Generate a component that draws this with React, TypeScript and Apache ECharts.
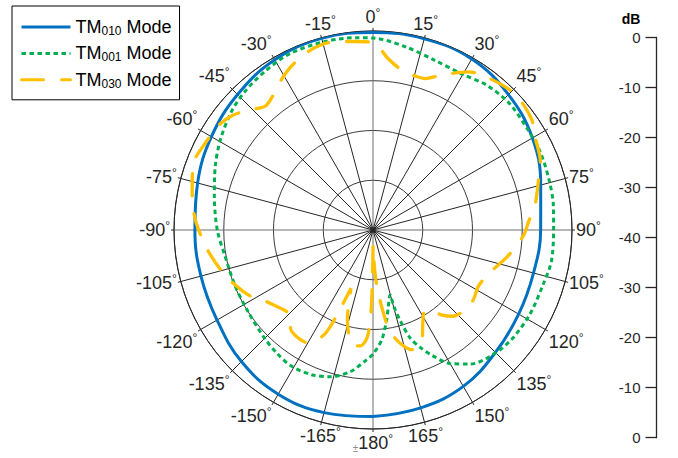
import { useEffect, useRef } from "react";
import * as echarts from "echarts";

// ---------- data ----------
const seriesNames = ["TM010 Mode", "TM001 Mode", "TM030 Mode"];
const legendSubscripts = ["010", "001", "030"];
const dbTickLabels = ["0", "-10", "-20", "-30", "-40", "-30", "-20", "-10", "0"];

const blueAngles = [-180, -165, -150, -135, -120, -105, -90, -75, -60, -45, -30, -15, 0, 15, 30, 45, 60, 75, 90, 105, 120, 135, 150, 165, 180];
const blueDb = [-2.5, -2.0, -1.9, -2.6, -3.8, -4.2, -4.2, -3.5, -2.5, -1.5, -0.5, -0.1, -0.3, -0.2, -0.3, -1.5, -3.0, -5.1, -6.3, -6.6, -6.2, -5.2, -3.7, -3.0, -2.5];

const greenAngles = [-180, -177, -171, -164, -157, -149, -142, -135, -123, -112, -100, -90, -78, -68, -59, -50, -43, -34, -25, -14, -5, 0, 10, 20, 30, 38, 47, 57, 65, 74, 82, 90, 100, 108, 118, 128, 136, 144, 150, 155, 158, 161, 163.3, 164.7, 165.3, 168.7, 171.4, 175.5, 180];
const greenDb = [-15.0, -13.8, -11.2, -9.3, -8.4, -8.1, -8.6, -9.2, -10.0, -10.1, -9.8, -8.7, -7.4, -5.8, -4.3, -2.9, -2.1, -1.4, -0.8, -0.9, -1.2, -1.4, -2.6, -3.7, -3.9, -3.0, -2.6, -2.9, -2.9, -3.2, -3.4, -3.7, -3.6, -4.1, -4.2, -4.5, -5.2, -6.7, -9.0, -12.3, -14.5, -17.0, -21.0, -24.0, -26.5, -24.3, -21.7, -17.8, -15.0];

const orangeAngles = [-180, -179.3, -178.5, -177, -174, -171, -168, -164, -161, -159.3, -158, -157, -155, -150, -145, -140, -136, -133, -128, -124, -118, -110, -104, -96, -88, -82, -77, -72, -68, -64, -56, -51, -46, -41, -37, -31, -26, -19, -13, -6, 0, 5, 10, 15, 19, 24, 31, 36, 43, 48, 55, 60, 68, 73, 81, 87, 92, 101, 110, 118, 124, 129, 134, 137, 141, 145, 148, 152, 155, 159, 162, 165, 168, 171, 173, 176, 178, 179.5, 180];
const orangeDb = [-36, -29, -23, -18.5, -16.6, -16.4, -17.6, -21.3, -25.5, -27.5, -24.5, -21.3, -16.8, -13.8, -13.6, -14.2, -16.3, -16.1, -15.2, -14.2, -11.9, -9.7, -8.2, -6.3, -4.5, -3.4, -2.7, -1.9, -1.5, -1.9, -2.5, -3.5, -5.3, -7.0, -6.4, -4.5, -3.1, -1.7, -1.3, -1.9, -2.3, -5.4, -7.3, -7.9, -7.8, -5.9, -2.9, -1.8, -0.8, -0.5, -1.1, -2.4, -3.7, -5.2, -7.0, -8.7, -9.7, -12.4, -15.0, -16.0, -15.5, -15.3, -15.8, -16.3, -18.0, -20.4, -20.6, -18.7, -16.5, -15.0, -14.7, -15.8, -17.5, -20.0, -23.5, -28.6, -33.0, -37.0, -36];

const toPolar = (angles: number[], db: number[]) => angles.map((a, i) => [db[i], a]);

const FONT = "Arial, 'Liberation Sans', sans-serif";
const INK = "#262626";

export default function App() {
  const ref = useRef<HTMLDivElement>(null);

  useEffect(() => {
    if (!ref.current) return;
    const chart = echarts.init(ref.current, undefined, { renderer: "svg" });

    const spokeColors = ["#6e6e6e", INK, INK, INK, INK, INK];

    chart.setOption({
      animation: false,
      backgroundColor: "#fff",
      textStyle: { fontFamily: FONT },
      polar: { center: [373, 230], radius: 199 },
      angleAxis: {
        type: "value",
        min: -180,
        max: 180,
        interval: 15,
        startAngle: 270,
        clockwise: true,
        axisLine: { show: true, lineStyle: { color: INK, width: 1 } },
        axisTick: { show: true, length: 3, lineStyle: { color: INK, width: 1 } },
        splitLine: { show: true, lineStyle: { color: spokeColors, width: 1 } },
        axisLabel: {
          margin: 4,
          color: INK,
          formatter: (v: number) => {
            const n = Math.round(v);
            if (Math.abs(n) === 180) return "{pm|±}{n|180}{d|°}";
            return `{n|${n}}{d|°}`;
          },
          rich: {
            n: { fontSize: 18, lineHeight: 20, color: INK, fontFamily: FONT },
            d: { fontSize: 12, lineHeight: 12, verticalAlign: "top", color: INK, fontFamily: FONT },
            pm: { fontSize: 10, lineHeight: 14, verticalAlign: "bottom", color: "#8c8c8c", fontFamily: FONT },
          },
        },
      },
      radiusAxis: {
        type: "value",
        min: -40,
        max: 0,
        interval: 10,
        axisLine: { show: false },
        axisTick: { show: false },
        axisLabel: { show: false },
        splitLine: { show: true, lineStyle: { color: INK, width: 0.9 } },
      },
      grid: { left: 656.5, top: 37.5, width: 10, height: 400.2 },
      xAxis: { type: "value", show: false, min: 0, max: 1 },
      yAxis: {
        type: "value",
        min: 0,
        max: 8,
        interval: 1,
        inverse: true,
        position: "left",
        axisLine: { show: true, onZero: false, lineStyle: { color: INK, width: 1.3 } },
        axisTick: { show: true, length: 11, lineStyle: { color: INK, width: 1.3 } },
        splitLine: { show: false },
        axisLabel: {
          margin: 16,
          fontSize: 15,
          color: INK,
          fontFamily: FONT,
          formatter: (v: number) => dbTickLabels[Math.round(v)] ?? "",
        },
      },
      graphic: [
        {
          type: "text",
          x: 631,
          y: 19,
          style: { text: "dB", align: "center", verticalAlign: "middle", fontSize: 14, fontWeight: "bold", fill: "#000", fontFamily: FONT },
        },
      ],
      legend: {
        data: seriesNames,
        orient: "vertical",
        left: 12,
        top: 6,
        padding: [12, 8, 10, 8],
        itemWidth: 49,
        itemHeight: 14,
        itemGap: 7.4,
        borderColor: "#000",
        borderWidth: 1,
        backgroundColor: "#fff",
        lineStyle: { width: 3 },
        itemStyle: { opacity: 0 },
        formatter: (name: string) => {
          const i = seriesNames.indexOf(name);
          return `{a|TM}{s|${legendSubscripts[i]}}{a| Mode}`;
        },
        textStyle: {
          rich: {
            a: { fontSize: 18, lineHeight: 20, color: "#000", fontFamily: FONT },
            s: { fontSize: 12, lineHeight: 12, verticalAlign: "bottom", color: "#000", fontFamily: FONT },
          },
        },
      },
      series: [
        {
          name: seriesNames[0],
          type: "line",
          coordinateSystem: "polar",
          symbol: "none",
          smooth: 0.4,
          data: toPolar(blueAngles, blueDb),
          lineStyle: { color: "#0070C0", width: 3 },
          itemStyle: { color: "#0070C0" },
        },
        {
          name: seriesNames[1],
          type: "line",
          coordinateSystem: "polar",
          symbol: "none",
          smooth: 0.3,
          data: toPolar(greenAngles, greenDb),
          lineStyle: { color: "#00B050", width: 3, type: [4.5, 3.5] },
          itemStyle: { color: "#00B050" },
        },
        {
          name: seriesNames[2],
          type: "line",
          coordinateSystem: "polar",
          symbol: "none",
          smooth: 0.3,
          data: toPolar(orangeAngles, orangeDb),
          lineStyle: { color: "#FFC000", width: 3.3, type: [22, 18], cap: "round" },
          itemStyle: { color: "#FFC000" },
        },
      ],
    });

    return () => chart.dispose();
  }, []);

  return <div ref={ref} style={{ position: "fixed", left: 0, top: 0, width: 678, height: 458 }} />;
}
